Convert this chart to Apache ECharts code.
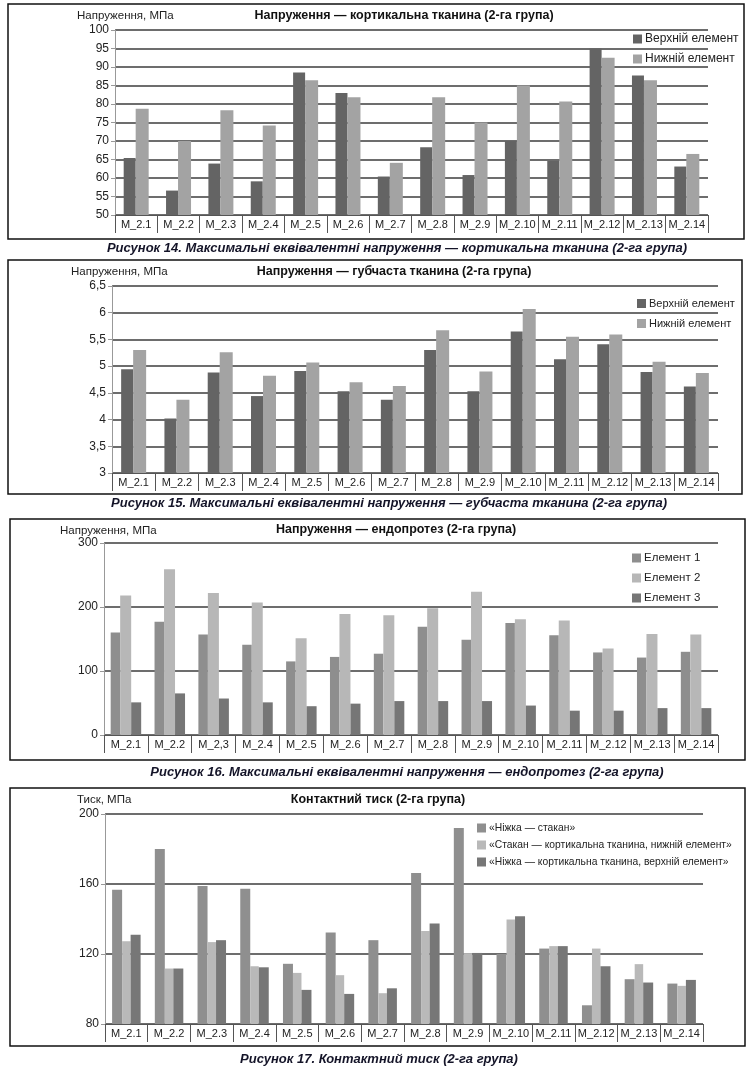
<!DOCTYPE html>
<html>
<head>
<meta charset="utf-8">
<script src="https://cdn.jsdelivr.net/npm/echarts@6/dist/echarts.min.js"></script>
<style>
html,body{margin:0;padding:0;background:#fff;}
#c{width:754px;height:1071px;}
</style>
</head>
<body>
<div id="c"></div>
<script>
// ---------- DATA ----------
const categories = ['M_2.1','M_2.2','M_2.3','M_2.4','M_2.5','M_2.6','M_2.7','M_2.8','M_2.9','M_2.10','M_2.11','M_2.12','M_2.13','M_2.14'];
const categories3 = ['M_2.1','M_2.2','M_2,3','M_2.4','M_2.5','M_2.6','M_2.7','M_2.8','M_2.9','M_2.10','M_2.11','M_2.12','M_2.13','M_2.14'];

// Fig 14 — cortical tissue
const cortUpper = [65.4,56.6,63.9,59.1,88.5,83.0,60.4,68.3,60.8,70.0,64.6,95.0,87.7,63.1];
const cortLower = [78.7,70.0,78.3,74.2,86.4,81.8,64.1,81.8,75.0,85.0,80.7,92.5,86.4,66.5];

// Fig 15 — cancellous tissue
const spongUpper = [4.94,4.02,4.88,4.44,4.91,4.53,4.37,5.30,4.53,5.65,5.13,5.41,4.89,4.62];
const spongLower = [5.30,4.37,5.26,4.82,5.07,4.70,4.63,5.67,4.90,6.07,5.55,5.59,5.08,4.87];

// Fig 16 — endoprosthesis
const endoEl1 = [160,177,157,141,115,122,127,169,149,175,156,129,121,130];
const endoEl2 = [218,259,222,207,151,189,187,198,224,181,179,135,158,157];
const endoEl3 = [51,65,57,51,45,49,53,53,53,46,38,38,42,42];

// Fig 17 — contact pressure
const contA = [156.7,180.0,158.8,157.3,114.4,132.3,127.9,166.3,192.0,120.0,123.1,90.7,105.6,103.1];
const contB = [127.3,111.7,126.8,113.0,109.2,107.9,97.6,133.2,120.5,139.7,124.5,123.1,114.2,101.8];
const contC = [131.0,111.7,127.9,112.4,99.5,97.2,100.4,137.4,120.6,141.6,124.5,113.0,103.7,105.2];

// ---------- STYLE ----------
const FONT = "'Liberation Sans Narrow','Liberation Sans',Arial,sans-serif";
const C_DARK = '#646464';
const C_LIGHT = '#a3a3a3';
const C_E1 = '#8e8e8e', C_E2 = '#b7b7b7', C_E3 = '#767676';

const chart = echarts.init(document.getElementById('c'), null, {renderer:'canvas'});

function xAx(gi, cats){
  return {
    type:'category', gridIndex:gi, data:cats, boundaryGap:true,
    axisLine:{show:true, lineStyle:{color:'#555', width:1}},
    axisTick:{show:true, alignWithLabel:false, length:18, lineStyle:{color:'#555', width:1}},
    axisLabel:{color:'#222', fontSize:11, fontFamily:FONT, margin:4, interval:0}
  };
}
function yAx(gi, min, max, interval, comma){
  return {
    type:'value', gridIndex:gi, min:min, max:max, interval:interval,
    axisLine:{show:true, lineStyle:{color:'#999', width:1}},
    axisTick:{show:true, length:4, lineStyle:{color:'#999'}},
    splitLine:{show:true, lineStyle:{color:'#3c3c3c', width:1.6}},
    axisLabel:{color:'#222', fontSize:12, fontFamily:FONT, margin:6,
      formatter: comma ? (v => String(v).replace('.', ',')) : (v => String(v))}
  };
}
function bar(name, gi, data, color, width){
  return {
    name:name, type:'bar', xAxisIndex:gi, yAxisIndex:gi, data:data,
    barWidth:width, barGap:'0%', itemStyle:{color:color}, silent:true, animation:false
  };
}
function titleText(text, cx, y){
  return {type:'text', x:cx, y:y, style:{text:text, fill:'#111', font:'bold 12.5px ' + FONT, textAlign:'center', textVerticalAlign:'middle'}};
}
function caption(text, cx, y){
  return {type:'text', x:cx, y:y, style:{text:text, fill:'#141428', font:'italic bold 13px ' + FONT, textAlign:'center', textVerticalAlign:'middle'}};
}
function yName(text, x, y){
  return {type:'text', x:x, y:y, style:{text:text, fill:'#222', font:'11.5px ' + FONT, textAlign:'left', textVerticalAlign:'middle'}};
}
function box(x1,y1,x2,y2){
  return {type:'rect', shape:{x:x1,y:y1,width:x2-x1,height:y2-y1}, style:{fill:'none', stroke:'#111', lineWidth:1.5}, z:-1};
}
function legend(names, left, top, gap, fs){
  return {
    data:names, orient:'vertical', left:left, top:top, itemGap:gap,
    itemWidth:9, itemHeight:9, icon:'rect', selectedMode:false,
    textStyle:{color:'#222', fontSize:fs, fontFamily:FONT, padding:[0,0,0,-2]}
  };
}

const option = {
  backgroundColor:'#fff',
  animation:false,
  grid:[
    {left:115, right:46, top:30, bottom:856},
    {left:112, right:36, top:286, bottom:598},
    {left:104, right:36, top:543, bottom:336},
    {left:105, right:51, top:814, bottom:47}
  ],
  xAxis:[ xAx(0,categories), xAx(1,categories), xAx(2,categories3), xAx(3,categories) ],
  yAxis:[ yAx(0,50,100,5,false), yAx(1,3,6.5,0.5,true), yAx(2,0,300,100,false), yAx(3,80,200,40,false) ],
  legend:[
    legend(['Верхній елемент','Нижній елемент'], 628, 28, 8, 12),
    legend(['Верхній елемент (2)','Нижній елемент (2)'], 632, 293, 9, 11),
    legend(['Елемент 1','Елемент 2','Елемент 3'], 627, 547, 8, 11.5),
    legend(['«Ніжка — стакан»','«Стакан — кортикальна тканина, нижній елемент»','«Ніжка — кортикальна тканина, верхній елемент»'], 472, 818, 7, 10.3)
  ],
  series:[
    bar('Верхній елемент',0,cortUpper,C_DARK,12),
    bar('Нижній елемент',0,cortLower,C_LIGHT,13),
    bar('Верхній елемент (2)',1,spongUpper,C_DARK,12),
    bar('Нижній елемент (2)',1,spongLower,C_LIGHT,13),
    bar('Елемент 1',2,endoEl1,C_E1,9.5),
    bar('Елемент 2',2,endoEl2,C_E2,11),
    bar('Елемент 3',2,endoEl3,C_E3,10),
    bar('«Ніжка — стакан»',3,contA,'#8f8f8f',10),
    bar('«Стакан — кортикальна тканина, нижній елемент»',3,contB,'#b9b9b9',8.5),
    bar('«Ніжка — кортикальна тканина, верхній елемент»',3,contC,'#777777',10)
  ],
  graphic:[
    box(8,4,744,239),
    box(8,260,742,494),
    box(10,519,745,760),
    box(10,788,745,1046),
    yName('Напруження, МПа',77,16),
    titleText('Напруження — кортикальна тканина (2-га група)',404,16),
    caption('Рисунок 14. Максимальні еквівалентні напруження — кортикальна тканина (2-га група)',397,248),
    yName('Напруження, МПа',71,272),
    titleText('Напруження — губчаста тканина (2-га група)',394,272),
    caption('Рисунок 15. Максимальні еквівалентні напруження — губчаста тканина (2-га група)',389,503),
    yName('Напруження, МПа',60,531),
    titleText('Напруження — ендопротез (2-га група)',396,530),
    caption('Рисунок 16. Максимальні еквівалентні напруження — ендопротез (2-га група)',407,772),
    yName('Тиск, МПа',77,800),
    titleText('Контактний тиск (2-га група)',378,800),
    caption('Рисунок 17. Контактний тиск (2-га група)',379,1059)
  ]
};
option.legend[1].formatter = n => n.replace(' (2)','');
chart.setOption(option);
</script>
</body>
</html>
